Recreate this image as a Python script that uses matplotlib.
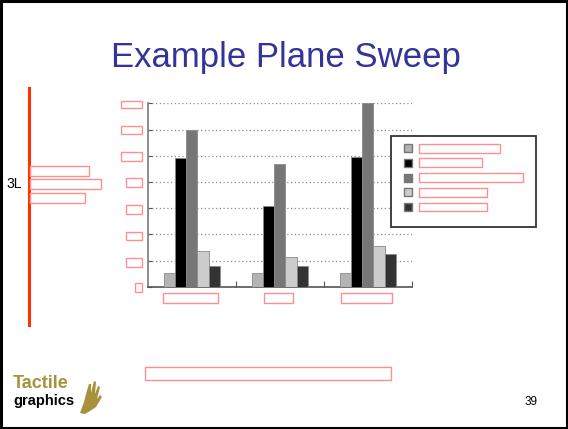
import matplotlib
matplotlib.use("Agg")
import matplotlib.pyplot as plt
from matplotlib.patches import Rectangle, Polygon
import numpy as np

plt.rcParams['font.family'] = ['Liberation Sans', 'DejaVu Sans']

# Bar heights for the three groups, one list per series
series_a = [0.53, 0.53, 0.53]
series_b = [4.90, 3.07, 4.95]
series_c = [6.00, 4.69, 7.00]
series_d = [1.36, 1.12, 1.55]
series_e = [0.78, 0.78, 1.24]
series_colors = ['#b3b3b3', '#000000', '#777777', '#cccccc', '#333333']
y_ticks = [0, 1, 2, 3, 4, 5, 6, 7]
n_groups = 3

W, H = 568, 429
fig = plt.figure(figsize=(W / 100, H / 100), dpi=100)


def fx(x):
    return x / W


def fy(y):
    return 1 - y / H


def box(x0, y0, x1, y1, ec='#ff8f8f', lw=1.0, fc='none', z=5):
    fig.patches.append(Rectangle((fx(x0), fy(y1)), fx(x1) - fx(x0), fy(y0) - fy(y1),
                                 transform=fig.transFigure, fill=(fc != 'none'),
                                 facecolor=fc, edgecolor=ec, lw=lw, zorder=z))


# Slide frame
box(1, 1, 567, 428, ec='black', lw=2.2)

# Title
fig.text(fx(286), fy(58), 'Example Plane Sweep', color='#333399', fontsize=25,
         ha='center', va='center')

# Chart
ax = fig.add_axes([fx(147.7), fy(286.7), fx(411.7) - fx(147.7), fy(103.3) - fy(286.7)])
all_series = [series_a, series_b, series_c, series_d, series_e]
bw = 0.128
centers = np.arange(n_groups) + 0.5
for k, (vals, col) in enumerate(zip(all_series, series_colors)):
    ax.bar(centers + (k - 2) * bw, vals, width=bw, color=col,
           edgecolor='#8a8a8a', linewidth=0.6, zorder=3)
ax.set_xlim(0, n_groups)
ax.set_ylim(0, 7)
ax.set_yticks(y_ticks)
ax.set_xticks([1, 2, 3])
ax.yaxis.grid(True, linestyle=(0, (1, 2)), color='#8c8c8c', linewidth=0.9, zorder=0)
ax.tick_params(axis='y', direction='in', length=3, color='#555555', labelleft=False)
ax.tick_params(axis='x', direction='in', length=4, color='#555555', labelbottom=False)
ax.spines['top'].set_visible(False)
ax.spines['right'].set_visible(False)
ax.spines['left'].set_color('#7a7a7a')
ax.spines['left'].set_linewidth(1.2)
ax.spines['bottom'].set_color('#555555')
ax.spines['bottom'].set_linewidth(1.2)
ax.set_facecolor('none')

# Tick label placeholders
ylab_boxes = [(120.7, 100.7, 141.7, 108.3), (120.7, 125.7, 141.7, 134.3),
              (120.7, 152.0, 141.7, 161.0), (126.0, 178.0, 141.7, 187.0),
              (126.0, 205.0, 141.7, 213.5), (126.0, 231.5, 141.7, 240.0),
              (126.0, 258.0, 141.7, 267.0), (135.0, 282.5, 141.7, 291.5)]
for b in ylab_boxes:
    box(*b)
for b in [(163.3, 293.3, 218.3, 303.3), (264.3, 293.3, 293.0, 303.3),
          (340.7, 293.3, 391.7, 303.3)]:
    box(*b)

# Legend
box(390.5, 136, 536, 227, ec='#333333', lw=1.3, fc='white', z=4)
leg_y = [148.3, 162.7, 177.7, 192.3, 207.0]
leg_w = [500, 482, 523, 487, 487]
for yc, col, xr in zip(leg_y, series_colors, leg_w):
    box(404, yc - 4, 412, yc + 4, ec='#777777', lw=1.0, fc=col, z=6)
    box(418.5, yc - 4.3, xr, yc + 4.3, z=6)

# Left annotation
fig.lines.append(plt.Line2D([fx(29), fx(29)], [fy(88), fy(325)], color='#ff3300',
                            lw=2.2, transform=fig.transFigure))
fig.text(fx(6), fy(184), '3L', fontsize=10, ha='left', va='center')
for b in [(30, 166, 89.3, 175.7), (30, 179.3, 101.3, 189), (30, 193.3, 85.3, 202.7)]:
    box(*b)

# Caption placeholder
box(145, 367.4, 391, 379.7)

# Logo
fig.text(fx(13), fy(384), 'Tactile', color='#a8903c', fontsize=13,
         fontweight='heavy', ha='left', va='center')
fig.text(fx(13), fy(400.5), 'graphics', color='black', fontsize=10.5,
         fontweight='heavy', ha='left', va='center')
hand = [(80, 413), (84, 402), (86, 394), (89, 384), (91, 384), (91, 393),
        (94, 381), (96, 382), (95, 394), (98, 386), (100, 387), (97, 399),
        (100, 395), (102, 397), (96, 407), (90, 411), (85, 414)]
fig.patches.append(Polygon([(fx(x), fy(y)) for x, y in hand], closed=True,
                           transform=fig.transFigure, facecolor='#a8903c',
                           edgecolor='none'))

# Page number
fig.text(fx(531), fy(402), '39', fontsize=8.5, ha='center', va='center')

fig.savefig('out.png', dpi=100)
